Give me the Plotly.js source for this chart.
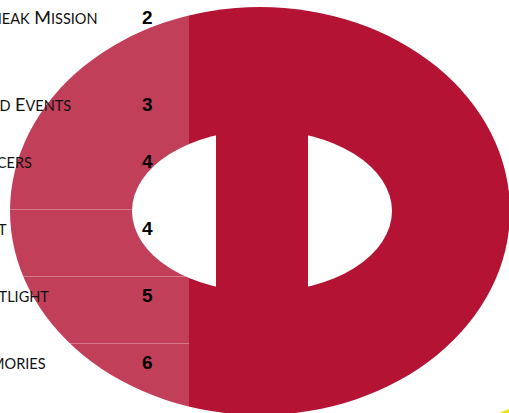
<!DOCTYPE html>
<html>
<head>
<meta charset="utf-8">
<script src="https://cdn.plot.ly/plotly-3.0.1.min.js"></script>
<style>html,body{margin:0;padding:0;background:#fff;}#chart{width:509px;height:413px;}</style>
</head>
<body>
<div id="chart"></div>
<script>
// ---- data ----
const categories = ["Sneak Mission", "Food Events", "Racers", "Art", "Spotlight", "Memories"];
const values = [2, 3, 4, 4, 5, 6];

// ---- layout helpers (pixels -> paper) ----
const W = 509, H = 413;
const px = x => x / W;
const py = y => 1 - y / H;
const DARK = "#B41334";

// per-row text placement (pixels), kept apart from the data
const rowNudgeY = [25, 5, 15, 15, 15, 15];
const labelRightEdge = [100, 73, 34, 9, 51, 48];

// small-caps rendering: initial letters large, the rest as smaller capitals
function smallCaps(s) {
  return s.split(" ").map(w =>
    w.charAt(0).toUpperCase() + '<span style="font-size:14.5px">' + w.slice(1).toUpperCase() + '</span>'
  ).join(" ");
}

const shapes = [
  // outer ellipse of the ring
  {type: "circle", xref: "paper", yref: "paper", x0: px(10), x1: px(510), y0: py(415), y1: py(7),
   fillcolor: DARK, line: {width: 0}, layer: "below"},
  // hole
  {type: "circle", xref: "paper", yref: "paper", x0: px(132), x1: px(392), y0: py(292), y1: py(130),
   fillcolor: "#ffffff", line: {width: 0}, layer: "below"},
  // vertical bar across the hole
  {type: "rect", xref: "paper", yref: "paper", x0: px(216), x1: px(308), y0: py(300), y1: py(120),
   fillcolor: DARK, line: {width: 0}, layer: "below"},
  // light overlay band on the left
  {type: "rect", xref: "paper", yref: "paper", x0: 0, x1: px(189), y0: 0, y1: 1,
   fillcolor: "rgba(255,255,255,0.19)", line: {width: 0}, layer: "below"},
  // yellow sliver in the bottom-right corner
  {type: "path", xref: "paper", yref: "paper",
   path: `M ${px(498)},${py(413.5)} L ${px(510)},${py(408.5)} L ${px(510)},${py(413.5)} Z`,
   fillcolor: "#F2E21A", line: {width: 0}, layer: "below"}
];
// separators between the lower rows
for (let i = 3; i < categories.length; i++) {
  shapes.push({type: "line", xref: "paper", yref: "y", x0: 0, x1: px(189), y0: i - 0.5, y1: i - 0.5,
    line: {color: "rgba(255,255,255,0.3)", width: 1}, layer: "below"});
}

const annotations = [];
categories.forEach((c, i) => {
  annotations.push({xref: "paper", yref: "y", x: px(labelRightEdge[i]), y: c, xanchor: "right", yanchor: "middle",
    yshift: rowNudgeY[i], showarrow: false, text: smallCaps(c),
    font: {family: "Lato, 'Open Sans', sans-serif", size: 18, color: "#111"}});
  annotations.push({xref: "paper", yref: "y", x: px(147), y: c, xanchor: "center", yanchor: "middle",
    yshift: rowNudgeY[i], showarrow: false, text: String(values[i]),
    font: {family: "'Liberation Sans', Arial, sans-serif", size: 19, color: "#000", weight: 700}});
});

const data = [{
  type: "scatter", mode: "markers", x: values, y: categories,
  marker: {opacity: 0}, hoverinfo: "skip", showlegend: false
}];

const layout = {
  width: W, height: H,
  margin: {l: 0, r: 0, t: 0, b: 0, pad: 0},
  paper_bgcolor: "#ffffff", plot_bgcolor: "rgba(0,0,0,0)",
  showlegend: false,
  xaxis: {range: [0, 100], visible: false, fixedrange: true},
  yaxis: {type: "category", categoryorder: "array", categoryarray: categories,
          range: [5.5 + (H - 410.5) / 67, -0.5 - 8.5 / 67], visible: false, fixedrange: true},
  shapes: shapes,
  annotations: annotations
};

Plotly.newPlot("chart", data, layout, {staticPlot: true, displayModeBar: false});
</script>
</body>
</html>
